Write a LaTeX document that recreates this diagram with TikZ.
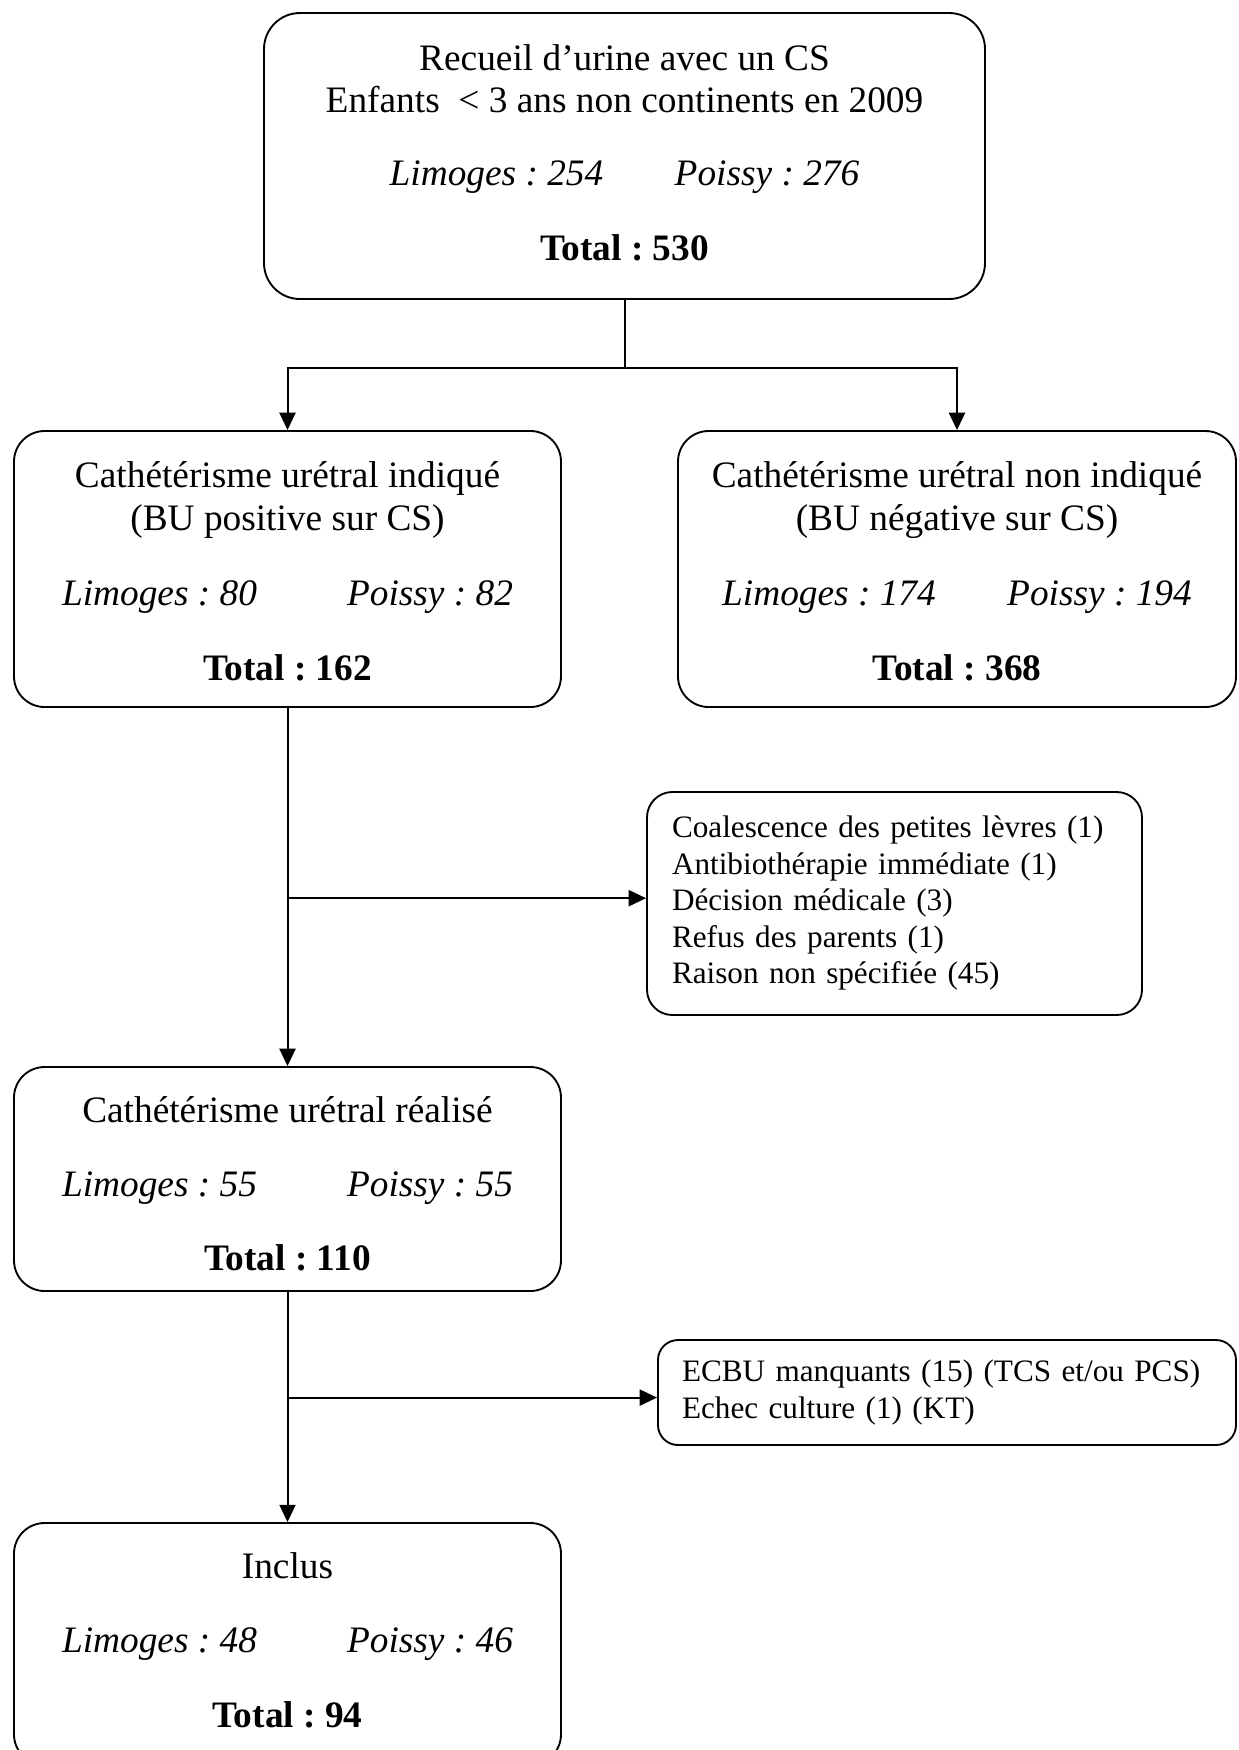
\documentclass[tikz,border=0pt]{standalone}
\usepackage{fontspec}
\setmainfont{Liberation Serif}
\usetikzlibrary{arrows.meta}

\newcommand{\pxl}{0.375pt}
\newcommand{\sites}[2]{\makebox[106.9pt][l]{\textit{Limoges : #1}}\textit{Poissy : #2}}

\begin{document}
\frenchspacing
\begin{tikzpicture}[x=0.375pt,y=-0.375pt,>={Triangle[length=6.5pt,width=6pt]},
  font=\fontsize{14}{16.1}\selectfont,
  box/.style={draw,line width=0.7pt,rounded corners=11.5pt,inner sep=0pt},
  note/.style={draw,line width=0.7pt,align=left,font=\fontsize{11.7}{13.7}\selectfont},
  txt/.style={anchor=base,inner sep=0pt},
  line/.style={line width=0.75pt}]

\useasboundingbox (0,0) rectangle (1239,1750);
\clip (0,0) rectangle (1239,1750);

% boxes
\node[box,rounded corners=13.5pt,minimum width=721*\pxl,minimum height=286*\pxl] (recueil) at (624.5,156) {};
\node[box,minimum width=547*\pxl,minimum height=276*\pxl] (indique) at (287.5,569) {};
\node[box,minimum width=558*\pxl,minimum height=276*\pxl] (nonind) at (957,569) {};
\node[box,minimum width=547*\pxl,minimum height=224*\pxl] (realise) at (287.5,1179) {};
\node[box,minimum width=547*\pxl,minimum height=242*\pxl] (inclus) at (287.5,1644) {};

\node[note,rounded corners=9.5pt,text width=445*\pxl,inner xsep=25*\pxl,minimum height=223*\pxl] (exclus1) at (894.5,903.5)
  {\begin{tabular}{@{}l@{}}Coalescence des petites lèvres (1)\\Antibiothérapie immédiate (1)\\Décision médicale (3)\\Refus des parents (1)\\Raison non spécifiée (45)\end{tabular}};
\node[note,rounded corners=7.5pt,text width=530*\pxl,inner xsep=24*\pxl,minimum height=105*\pxl] (exclus2) at (947,1392.5)
  {\begin{tabular}{@{}l@{}}ECBU manquants (15) (TCS et/ou PCS)\\Echec culture (1) (KT)\end{tabular}};

% box texts
\node[txt] (recueil1) at (624.5,70) {Recueil d’urine avec un CS};
\node[txt] (recueil2) at (624.5,112) {Enfants\ \ < 3 ans non continents en 2009};
\node[txt] (recueil3) at (624.5,185) {\sites{254}{276}};
\node[txt] (recueil4) at (624.5,260) {\textbf{Total : 530}};

\node[txt] (indique1) at (287.5,487) {Cathétérisme urétral indiqué};
\node[txt] (indique2) at (287.5,530) {(BU positive sur CS)};
\node[txt] (indique3) at (287.5,605) {\sites{80}{82}};
\node[txt] (indique4) at (287.5,680) {\textbf{Total : 162}};

\node[txt] (nonind1) at (957,487) {Cathétérisme urétral non indiqué};
\node[txt] (nonind2) at (957,530) {(BU négative sur CS)};
\node[txt] (nonind3) at (957,605) {\sites{174}{194}};
\node[txt] (nonind4) at (957,680) {\textbf{Total : 368}};

\node[txt] (realise1) at (287.5,1122) {Cathétérisme urétral réalisé};
\node[txt] (realise2) at (287.5,1196) {\sites{55}{55}};
\node[txt] (realise3) at (287.5,1270) {\textbf{Total : 110}};

\node[txt] (inclus1) at (287.5,1578) {Inclus};
\node[txt] (inclus2) at (287.5,1652) {\sites{48}{46}};
\node[txt] (inclus3) at (287.5,1727) {\textbf{Total : 94}};

% connectors
\coordinate (split) at (624.5,368);
\draw[line] (recueil.south) -- (split);
\draw[line,->] (split) -| (indique.north);
\draw[line,->] (split) -| (nonind.north);

\draw[line,->] (indique.south) -- (realise.north);
\coordinate (b1) at ([yshift=2pt]exclus1.west);
\draw[line,->] (indique.south |- b1) -- (b1);

\draw[line,->] (realise.south) -- (inclus.north);
\coordinate (b2) at ([yshift=-1.9pt]exclus2.west);
\draw[line,->] (realise.south |- b2) -- (b2);

\end{tikzpicture}
\end{document}
